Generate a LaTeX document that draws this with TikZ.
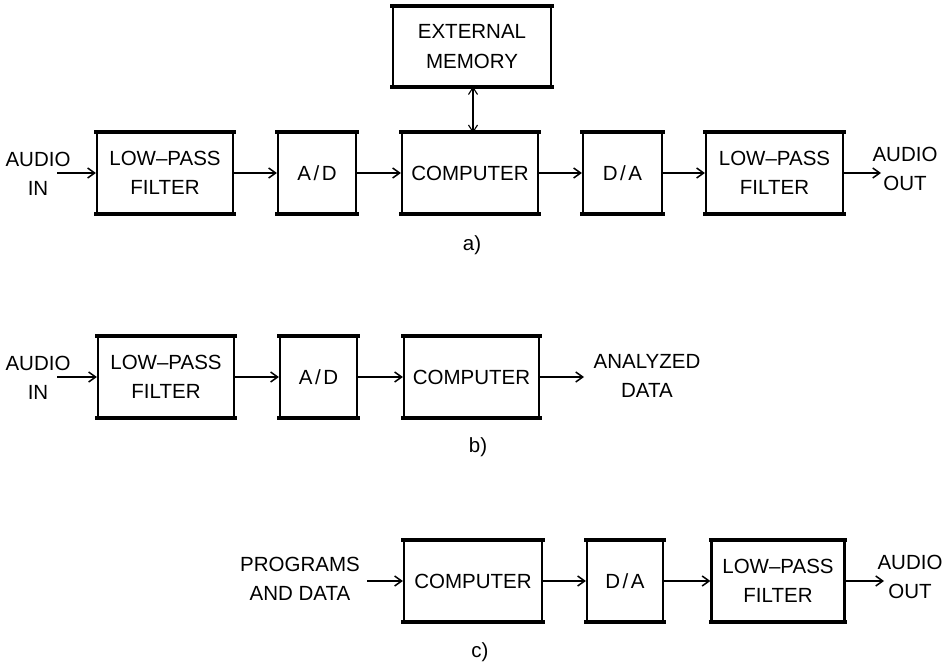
\documentclass[tikz,border=0pt]{standalone}
\usepackage{fontspec}
\setmainfont{Liberation Sans}
\usetikzlibrary{arrows.meta}
\newcommand{\AD}{A\kern2.5pt/\kern2.5pt D}
\newcommand{\DA}{D\kern2.5pt/\kern2.5pt A}
\begin{document}
\begin{tikzpicture}[x=1pt,y=-1pt,
  blk/.style={draw,line width=2.2pt,inner sep=0pt,minimum height=80pt,align=center,font=\fontsize{20.5}{29.5}\selectfont},
  lbl/.style={inner sep=0pt,align=center,font=\fontsize{20.5}{29.5}\selectfont},
  conn/.style={line width=1.6pt,-{Straight Barb[length=7pt,width=10pt,line width=1.5pt]}},
  bus/.style={line width=1.1pt,{Straight Barb[length=7pt,width=9pt,line width=1.1pt]}-{Straight Barb[length=7pt,width=9pt,line width=1.1pt]}}]
\useasboundingbox (0,0) rectangle (945,666);
% row a
\node[blk,minimum width=136pt] (lpfa) at (165,173) {LOW–PASS\\FILTER};
\node[blk,minimum width=78pt] (ada) at (317,173) {\AD};
\node[blk,minimum width=136pt] (compa) at (470,173) {COMPUTER};
\node[blk,minimum width=79pt] (daa) at (622.5,173) {\DA};
\node[blk,minimum width=137pt] (lpfa2) at (774.5,173) {LOW–PASS\\FILTER};
\node[blk,minimum width=158pt,minimum height=79pt] (mem) at (472,46.5) {EXTERNAL\\MEMORY};
\node[lbl] (aina) at (38,174) {AUDIO\\IN};
\node[lbl] (aouta) at (905,169) {AUDIO\\OUT};
\node[lbl] (capa) at (472,245) {a)};
\coordinate (ina) at (57,173);
\coordinate (outa) at (881,173);
\coordinate (memb) at (473,86.5);
\coordinate (compt) at (473,133);
% row b
\node[blk,minimum width=136pt] (lpfb) at (166,377) {LOW–PASS\\FILTER};
\node[blk,minimum width=77pt] (adb) at (318.5,377) {\AD};
\node[blk,minimum width=135pt] (compb) at (471.5,377) {COMPUTER};
\node[lbl] (ainb) at (38,378) {AUDIO\\IN};
\node[lbl] (anb) at (647,376) {ANALYZED\\DATA};
\node[lbl] (capb) at (478,447) {b)};
\coordinate (inb) at (57,377);
\coordinate (outb) at (584,377);
% row c
\node[blk,minimum width=138pt] (compc) at (473,581) {COMPUTER};
\node[blk,minimum width=76pt] (dac) at (625,581) {\DA};
\node[blk,minimum width=133pt] (lpfc) at (778,581) {LOW–PASS\\FILTER};
\node[lbl] (prog) at (300,579) {PROGRAMS\\AND DATA};
\node[lbl] (aoutc) at (910,577) {AUDIO\\OUT};
\node[lbl] (capc) at (480,652) {c)};
\coordinate (inc) at (367,581);
\coordinate (outc) at (884,581);
% heavy top and bottom edges
\foreach \n in {lpfa,ada,compa,daa,lpfa2,mem,lpfb,adb,compb,compc,dac,lpfc}{
  \draw[line width=4pt] ([xshift=-1.5pt]\n.north west) -- ([xshift=1.5pt]\n.north east);
  \draw[line width=4pt] ([xshift=-1.5pt]\n.south west) -- ([xshift=1.5pt]\n.south east);
}
% connectors
\draw[conn] (ina) -- (lpfa);
\draw[conn] (lpfa) -- (ada);
\draw[conn] (ada) -- (compa);
\draw[conn] (compa) -- (daa);
\draw[conn] (daa) -- (lpfa2);
\draw[conn] (lpfa2) -- (outa);
\draw[bus] (memb) -- (compt);
\draw[conn] (inb) -- (lpfb);
\draw[conn] (lpfb) -- (adb);
\draw[conn] (adb) -- (compb);
\draw[conn] (compb) -- (outb);
\draw[conn] (inc) -- (compc);
\draw[conn] (compc) -- (dac);
\draw[conn] (dac) -- (lpfc);
\draw[conn] (lpfc) -- (outc);
\end{tikzpicture}
\end{document}
